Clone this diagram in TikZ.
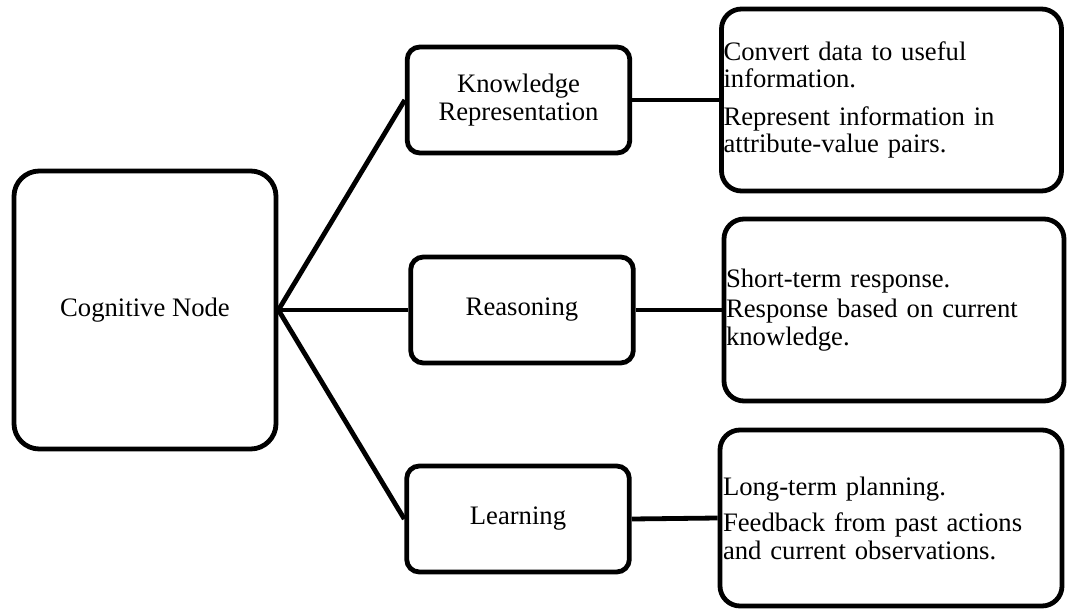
\documentclass[tikz,border=0pt]{standalone}
\usepackage{fontspec}
\setmainfont{Liberation Serif}
\usepackage{tikz}

\begin{document}
\begin{tikzpicture}[
			x=0.75pt,y=-0.75pt,
			box/.style={draw=black,line width=3.6pt,fill=white,inner sep=0pt,
				font=\fontsize{20}{20.5}\selectfont},
			core/.style={box,rounded corners=19pt,align=center,
				minimum width=196.5pt,minimum height=208.5pt},
			branch/.style={box,rounded corners=9.5pt,align=center,
				minimum width=167pt,minimum height=79.5pt},
			detail/.style={box,rounded corners=15pt,align=left,inner xsep=1.5pt,
				text width=252pt,minimum width=255pt,minimum height=136.5pt},
			link/.style={draw=black,line width=3.6pt}]
			\useasboundingbox (0,0) rectangle (1067,613);
			\node[core] (cog) at (145,310) {Cognitive Node};
			\node[branch] (know) at (518.5,100) {Knowledge\\Representation};
			\node[branch] (reason) at (522,310) {Reasoning};
			\node[branch] (learn) at (518,519) {Learning};
			\node[detail] (knowDesc) at (891.5,100)
				{Convert data to useful\\information.\\[8pt]Represent information in\\attribute-value pairs.};
			\node[detail] (reasonDesc) at (894,310)
				{Short-term response.\\[2pt]Response based on current\\knowledge.\\[6pt]};
			\node[detail,minimum height=132pt,minimum width=256.5pt] (learnDesc) at (891,518)
				{Long-term planning.\\[7pt]Feedback from past actions\\and current observations.};
			\draw[link] (cog.east) -- (know.west);
			\draw[link] (cog.east) -- (reason.west);
			\draw[link] (cog.east) -- (learn.west);
			\draw[link] (know.east) -- (knowDesc.west);
			\draw[link] (reason.east) -- (reasonDesc.west);
			\draw[link] (learn.east) -- (learnDesc.west);
		\end{tikzpicture}
\end{document}
